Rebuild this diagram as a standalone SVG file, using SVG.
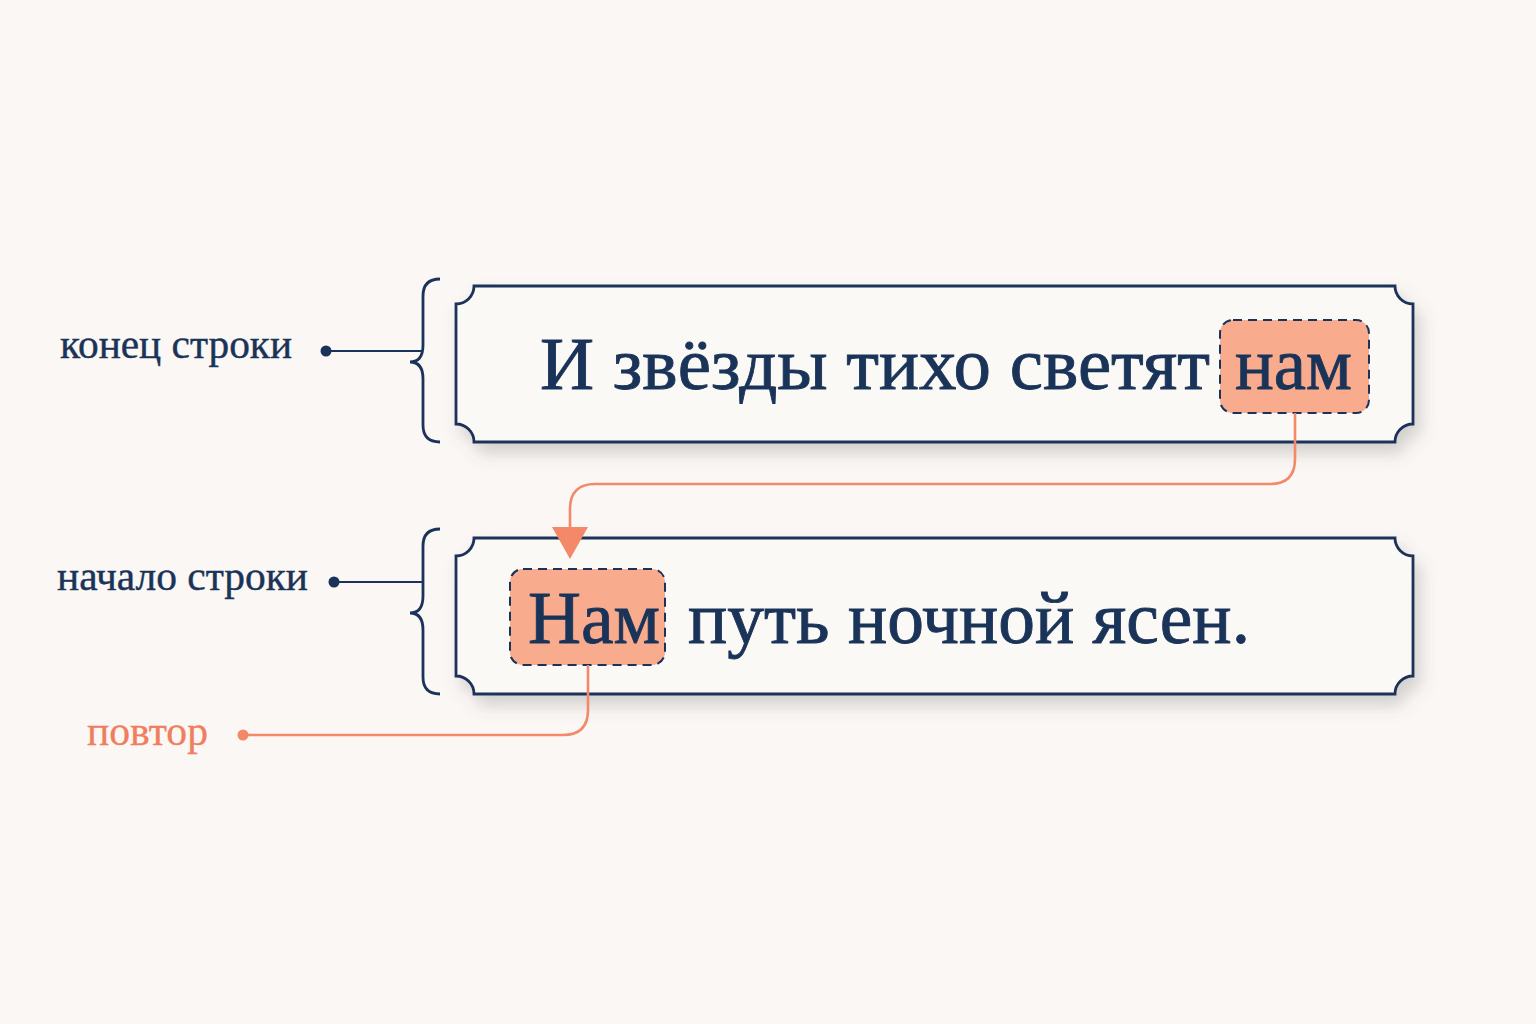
<svg xmlns="http://www.w3.org/2000/svg" width="1536" height="1024" viewBox="0 0 1536 1024">
<defs>
<filter id="sh" x="-5%" y="-20%" width="112%" height="150%">
<feDropShadow dx="6" dy="10" stdDeviation="8" flood-color="#5a5a5a" flood-opacity="0.25"/>
</filter>
</defs>
<style>
.box{fill:#FBF9F6;stroke:#1B335A;stroke-width:2.8}
.brace{fill:none;stroke:#1B335A;stroke-width:2.8}
.lead{fill:none;stroke:#1B335A;stroke-width:2.2}
.hl{fill:#F9AB8E;stroke:#1B335A;stroke-width:2;stroke-dasharray:9 6}
.coral{fill:none;stroke:#F4896A;stroke-width:2.6}
.main{font-family:"Liberation Serif",serif;font-size:75px;fill:#1A3358;stroke:#1A3358;stroke-width:0.9}
.lab{font-family:"Liberation Serif",serif;font-size:40px;fill:#1A3358;stroke:#1A3358;stroke-width:0.4}
.labc{font-family:"Liberation Serif",serif;font-size:40px;fill:#F07E5E;stroke:#F07E5E;stroke-width:0.3}
</style>
<rect width="1536" height="1024" fill="#FAF7F4"/>
<g id="line1">
<path class="box" filter="url(#sh)" d="M474 286 H1395 A18 18 0 0 0 1413 304 V424 A18 18 0 0 0 1395 442 H474 A18 18 0 0 0 456 424 V304 A18 18 0 0 0 474 286 Z"/>
<rect class="hl" x="1220" y="320" width="149" height="93" rx="13"/>
<text class="main" x="540" y="389" textLength="670" lengthAdjust="spacingAndGlyphs">И звёзды тихо светят</text>
<text class="main" x="1235" y="389" textLength="117" lengthAdjust="spacingAndGlyphs">нам</text>
</g>
<g id="line2">
<path class="box" filter="url(#sh)" d="M474 538 H1395 A18 18 0 0 0 1413 556 V676 A18 18 0 0 0 1395 694 H474 A18 18 0 0 0 456 676 V556 A18 18 0 0 0 474 538 Z"/>
<rect class="hl" x="510" y="569" width="155" height="96" rx="13"/>
<text class="main" x="528" y="643" textLength="132" lengthAdjust="spacingAndGlyphs">Нам</text>
<text class="main" x="688" y="643" textLength="562" lengthAdjust="spacingAndGlyphs">путь ночной ясен.</text>
</g>
<g id="label-end">
<path class="brace" d="M440 279 Q423 279 423 296 V345 Q423 362 410 362 Q423 362 423 379 V425 Q423 442 440 442"/>
<text class="lab" x="60" y="358" textLength="232" lengthAdjust="spacingAndGlyphs">конец строки</text>
</g>
<g id="label-start">
<path class="brace" d="M440 529 Q423 529 423 546 V596 Q423 613 410 613 Q423 613 423 630 V677 Q423 694 440 694"/>
<text class="lab" x="57" y="590" textLength="251" lengthAdjust="spacingAndGlyphs">начало строки</text>
</g>
<g id="label-repeat">
<text class="labc" x="87" y="745" textLength="121" lengthAdjust="spacingAndGlyphs">повтор</text>
</g>
<g id="connectors">
<circle cx="326" cy="351" r="5.5" fill="#1B335A"/>
<path class="lead" d="M326 351 H423"/>
<circle cx="334" cy="582" r="5.5" fill="#1B335A"/>
<path class="lead" d="M334 582 H423"/>
<path class="coral" d="M1295 413 V459 Q1295 484 1270 484 H595 Q570 484 570 509 V528"/>
<polygon points="552,527 588,527 570,559" fill="#F4896A"/>
<circle cx="243" cy="735" r="5.5" fill="#F4896A"/>
<path class="coral" d="M588 665 V710 Q588 735 563 735 H243"/>
</g>
</svg>
